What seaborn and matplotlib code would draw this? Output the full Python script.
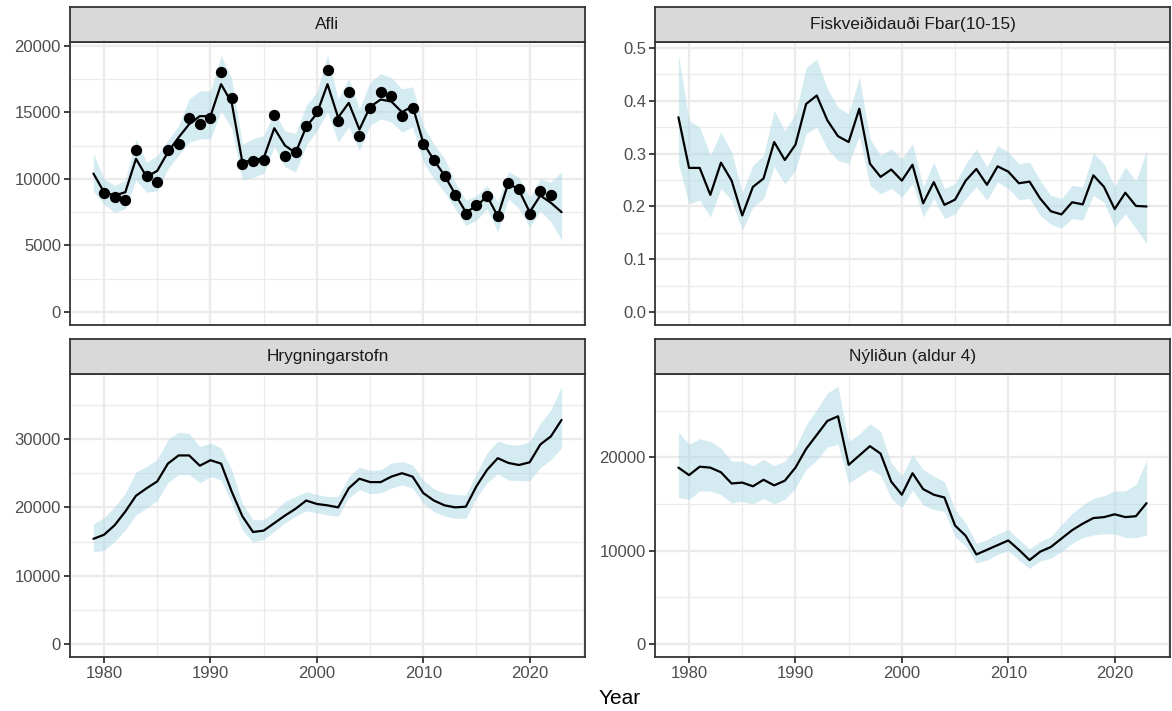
import numpy as np
import pandas as pd
import matplotlib
matplotlib.use("Agg")
import matplotlib.pyplot as plt
import seaborn as sns
from matplotlib.ticker import MultipleLocator, FuncFormatter

# ---------------- data ----------------
years = list(range(1979, 2024))

afli_obs = [np.nan, 8900, 8600, 8400, 12200, 10250, 9750, 12200, 12600, 14600,
            14150, 14550, 18050, 16100, 11100, 11350, 11400, 14800, 11750, 12000,
            13950, 15100, 18200, 14350, 16550, 13250, 15350, 16500, 16200, 14700,
            15300, 12600, 11400, 10200, 8800, 7350, 8050, 8700, 7200, 9700,
            9200, 7350, 9050, 8750, np.nan]
afli_fit = [10400, 9000, 8750, 9000, 11500, 10150, 10600, 12000, 13100, 14100,
            14700, 14700, 17100, 15700, 11250, 11400, 11550, 13800, 12500, 11950,
            13900, 14900, 17100, 14600, 15700, 13700, 15400, 15950, 15800, 15000,
            15450, 12700, 11400, 10250, 8850, 7500, 7950, 8700, 7200, 9700,
            9150, 7500, 8750, 8200, 7500]
afli_lo = [9050, 8100, 7500, 7750, 9900, 9000, 9100, 10750, 11750, 12750,
           13000, 13000, 15100, 13750, 9900, 10100, 10400, 12400, 10900, 10500,
           12500, 13600, 15000, 12750, 13900, 12100, 14000, 14500, 14250, 13500,
           13900, 11250, 10000, 9000, 7750, 6500, 6900, 7750, 6000, 8500,
           7750, 6400, 7600, 6750, 5400]
afli_hi = [11900, 10000, 9500, 9900, 13000, 11250, 11750, 12900, 14000, 16000,
           16600, 16600, 19250, 17500, 12600, 13000, 13250, 15000, 13600, 13400,
           15500, 16500, 19300, 16000, 17550, 15250, 17250, 17900, 17600, 16750,
           16900, 14000, 12600, 11550, 9750, 8400, 8750, 9500, 8250, 10550,
           10100, 8600, 10000, 9750, 10550]

fbar_fit = [0.369, 0.273, 0.273, 0.222, 0.283, 0.249, 0.183, 0.237, 0.253, 0.322,
            0.288, 0.317, 0.394, 0.410, 0.363, 0.333, 0.322, 0.385, 0.281, 0.256,
            0.270, 0.249, 0.279, 0.206, 0.246, 0.203, 0.213, 0.249, 0.271, 0.241,
            0.276, 0.266, 0.244, 0.247, 0.215, 0.191, 0.185, 0.208, 0.204, 0.259,
            0.237, 0.195, 0.226, 0.201, 0.200]
fbar_lo = [0.281, 0.205, 0.212, 0.180, 0.234, 0.212, 0.155, 0.199, 0.215, 0.275,
           0.243, 0.268, 0.338, 0.350, 0.309, 0.287, 0.281, 0.334, 0.240, 0.224,
           0.234, 0.218, 0.243, 0.180, 0.215, 0.177, 0.186, 0.215, 0.237, 0.212,
           0.246, 0.234, 0.213, 0.215, 0.183, 0.166, 0.159, 0.177, 0.174, 0.221,
           0.208, 0.161, 0.186, 0.158, 0.130]
fbar_hi = [0.487, 0.363, 0.350, 0.297, 0.341, 0.303, 0.227, 0.278, 0.297, 0.382,
           0.344, 0.375, 0.463, 0.479, 0.423, 0.388, 0.375, 0.445, 0.328, 0.297,
           0.309, 0.290, 0.319, 0.237, 0.284, 0.234, 0.243, 0.281, 0.309, 0.275,
           0.315, 0.303, 0.281, 0.284, 0.249, 0.221, 0.215, 0.240, 0.237, 0.301,
           0.281, 0.237, 0.275, 0.249, 0.306]

ssb_fit = [15400, 16000, 17400, 19400, 21700, 22800, 23800, 26400, 27600, 27600,
           26100, 26900, 26400, 22300, 18700, 16400, 16600, 17700, 18800, 19800,
           21000, 20500, 20300, 20000, 22800, 24200, 23700, 23700, 24500, 25000,
           24500, 22100, 21000, 20300, 20000, 20100, 23100, 25500, 27200, 26500,
           26200, 26600, 29200, 30400, 32800]
ssb_lo = [13500, 13700, 15000, 16700, 18900, 19900, 21000, 23600, 24800, 24800,
          23600, 24500, 24000, 20600, 16700, 14900, 15300, 16500, 17700, 18700,
          19500, 19200, 18900, 18700, 21400, 22600, 22000, 22100, 22800, 23300,
          22800, 20600, 19400, 18700, 18400, 18400, 21400, 23600, 24900, 24000,
          23900, 23900, 25800, 27000, 28700]
ssb_hi = [17600, 18500, 20100, 22100, 25200, 26000, 27000, 29900, 31000, 30800,
          28900, 29400, 28700, 25500, 20600, 18200, 18200, 19400, 20900, 21600,
          22300, 21900, 21600, 21600, 24500, 25900, 25400, 25500, 26500, 26700,
          26200, 24000, 22700, 22100, 21900, 21800, 25000, 28000, 29700, 29200,
          29100, 29600, 32300, 34300, 37700]

rec_fit = [18900, 18100, 19000, 18900, 18400, 17200, 17300, 16900, 17600, 17000,
           17500, 18900, 20900, 22400, 23900, 24400, 19200, 20200, 21200, 20400,
           17400, 16000, 18300, 16600, 16000, 15700, 12700, 11600, 9600, 10100,
           10600, 11100, 10100, 9000, 9900, 10400, 11300, 12200, 12900, 13500,
           13600, 13900, 13600, 13700, 15100]
rec_lo = [15700, 15500, 16400, 16400, 16000, 15100, 15300, 15000, 15600, 15000,
          15500, 16700, 18700, 19700, 21100, 21400, 17200, 18000, 18700, 18100,
          15600, 14600, 16500, 14900, 14400, 14200, 11500, 10500, 8700, 9000,
          9600, 10000, 9000, 8100, 8900, 9200, 9900, 10800, 11400, 11700,
          11800, 11800, 11400, 11400, 11700]
rec_hi = [22700, 21400, 22000, 21700, 21000, 19600, 19600, 19100, 19800, 19100,
          19600, 21000, 23500, 25100, 26900, 27600, 21700, 22500, 23600, 22800,
          19400, 18000, 20300, 18700, 18000, 17400, 14400, 13000, 10800, 11200,
          11800, 12300, 11200, 10200, 11000, 11500, 12800, 14000, 14900, 15600,
          15900, 16400, 16400, 17100, 19700]

titles = ["Afli", "Fiskveiðidauði Fbar(10-15)", "Hrygningarstofn", "Nýliðun (aldur 4)"]
x_label = "Year"

# ---------------- style ----------------
sns.set_theme(style="white")
plt.rcParams['font.family'] = ['Liberation Sans', 'DejaVu Sans']

W, H = 1172, 711
fig = plt.figure(figsize=(W / 100, H / 100), dpi=100)

col_left = [70, 655]
col_w = 515
rows = [(7, 42, 325), (339, 373.5, 657)]   # strip top, panel top, panel bottom

panel_specs = [
    (titles[0], afli_fit, afli_lo, afli_hi, afli_obs, 5000, 2500, "int"),
    (titles[1], fbar_fit, fbar_lo, fbar_hi, None, 0.1, 0.05, "f1"),
    (titles[2], ssb_fit, ssb_lo, ssb_hi, None, 10000, 5000, "int"),
    (titles[3], rec_fit, rec_lo, rec_hi, None, 10000, 5000, "int"),
]

border = "#333333"
for i, (title, fit, lo, hi, obs, major, minor, fmt) in enumerate(panel_specs):
    r, c = divmod(i, 2)
    st, pt, pb = rows[r]
    left = col_left[c]
    ax = fig.add_axes([left / W, 1 - pb / H, col_w / W, (pb - pt) / H])
    sax = fig.add_axes([left / W, 1 - pt / H, col_w / W, (pt - st) / H])

    df = pd.DataFrame({"Year": years, "fit": fit, "lo": lo, "hi": hi})
    ax.fill_between(df["Year"], df["lo"], df["hi"], color="#ADD8E6", alpha=0.5,
                    linewidth=0, zorder=2)
    sns.lineplot(data=df, x="Year", y="fit", ax=ax, color="black", linewidth=1.6,
                 zorder=3)
    if obs is not None:
        dfo = pd.DataFrame({"Year": years, "obs": obs}).dropna()
        sns.scatterplot(data=dfo, x="Year", y="obs", ax=ax, color="black", s=66,
                        edgecolor="black", linewidth=0, zorder=4)

    # limits like ggplot (5% expansion, include 0)
    ymin = min(0, min(lo))
    ymax = max(hi)
    span = ymax - ymin
    ax.set_ylim(ymin - 0.05 * span, ymax + 0.05 * span)
    xspan = years[-1] - years[0]
    ax.set_xlim(years[0] - 0.05 * xspan, years[-1] + 0.05 * xspan)

    ax.xaxis.set_major_locator(MultipleLocator(10))
    ax.xaxis.set_minor_locator(MultipleLocator(5))
    ax.yaxis.set_major_locator(MultipleLocator(major))
    ax.yaxis.set_minor_locator(MultipleLocator(minor))
    if fmt == "f1":
        ax.yaxis.set_major_formatter(FuncFormatter(lambda v, p: f"{v:.1f}"))
    else:
        ax.yaxis.set_major_formatter(FuncFormatter(lambda v, p: f"{v:.0f}"))

    ax.set_axisbelow(True)
    ax.grid(which="major", color="#EBEBEB", linewidth=1.7, zorder=0)
    ax.grid(which="minor", color="#EBEBEB", linewidth=0.9, zorder=0)
    ax.set_facecolor("white")
    for sp in ax.spines.values():
        sp.set_color(border)
        sp.set_linewidth(1.3)
        sp.set_visible(True)
    ax.tick_params(which="major", direction="out", length=4.5, width=1.3,
                   color=border, labelsize=12, labelcolor="#4D4D4D", pad=2,
                   left=True, bottom=True)
    ax.tick_params(which="minor", length=0)
    ax.set_xlabel("")
    ax.set_ylabel("")
    if r == 0:
        ax.tick_params(axis="x", which="both", bottom=False, labelbottom=False)

    # strip
    sax.set_facecolor("#D9D9D9")
    sax.set_xticks([])
    sax.set_yticks([])
    sax.grid(False)
    for sp in sax.spines.values():
        sp.set_color(border)
        sp.set_linewidth(1.3)
        sp.set_visible(True)
    sax.text(0.5, 0.5, title, transform=sax.transAxes, ha="center", va="center",
             fontsize=12.4, color="#1A1A1A")

fig.text(620 / W, 1 - 699 / H, x_label, ha="center", va="center", fontsize=15,
         color="black")

fig.savefig("out.png", dpi=100)
